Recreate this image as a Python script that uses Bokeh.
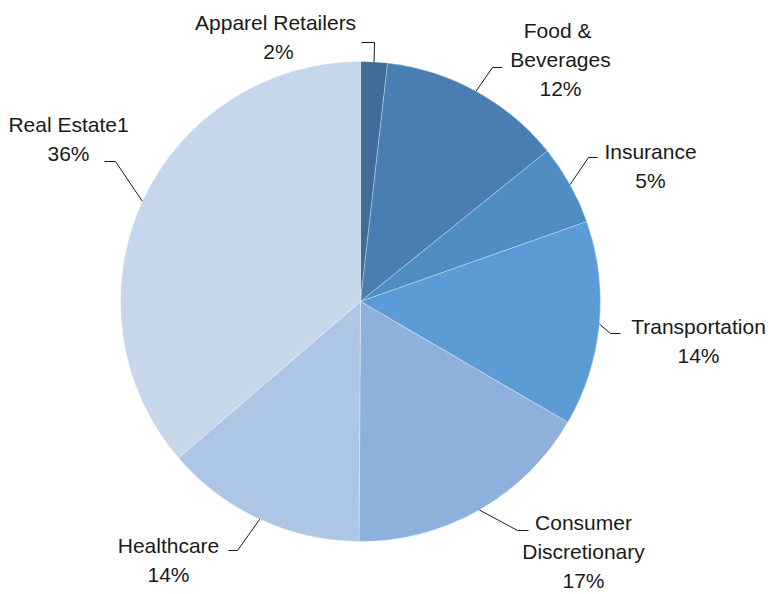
import numpy as np
from bokeh.plotting import figure
from bokeh.models import Range1d, ColumnDataSource
from bokeh.core.properties import value
from bokeh.embed import file_html
from bokeh.resources import INLINE

# ---- data ----
categories = ["Apparel Retailers", "Food & Beverages", "Insurance", "Transportation",
              "Consumer Discretionary", "Healthcare", "Real Estate1"]
shares = [1.8, 12.4, 5.4, 13.8, 16.7, 13.6, 36.3]
colors = ["#3f6c98", "#4a7eb2", "#508dc4", "#5b9bd6", "#8eb1dc", "#aec6e6", "#c6d7ec"]
label_lines = [["Apparel  Retailers"], ["Food  &", "Beverages"], ["Insurance"], ["Transportation"],
               ["Consumer", "Discretionary"], ["Healthcare"], ["Real Estate1"]]

# ---- layout (screen pixels, y measured from top) ----
W, H = 768, 594
CX, CY, R = 360, 301, 240
label_pos = [(278, 22), (560, 30), (650, 151), (698, 326), (583, 522), (168, 545), (68, 124)]
elbow_pos = [(374, 42), (492, 67), (588, 157), (610, 333), (517, 530), (237, 550), (115, 161)]
tail_pos = [(361, 42), (502, 67), (597, 157), (620, 333), (528, 530), (228, 550), (104, 161)]
LINE_H = 29
FONT = "Liberation Sans"

p = figure(width=W, height=H, x_range=Range1d(0, W), y_range=Range1d(0, H),
           output_backend="svg", toolbar_location=None, min_border=0,
           x_axis_type=None, y_axis_type=None)
p.grid.visible = False
p.outline_line_color = None
p.background_fill_color = "white"
p.border_fill_color = "white"

vals = np.array(shares, dtype=float)
frac = vals / vals.sum()
cum = np.concatenate([[0.0], np.cumsum(frac)])
start = np.pi / 2 - 2 * np.pi * cum[:-1]
end = np.pi / 2 - 2 * np.pi * cum[1:]

src = ColumnDataSource(dict(start=start, end=end, color=colors, cat=categories))
p.wedge(x=CX, y=H - CY, radius=R, radius_units="screen", start_angle="start", end_angle="end",
        direction="clock", fill_color="color", line_color="white", line_alpha=0.5,
        line_width=0.6, source=src)

# leader lines & labels
mid = 2 * np.pi * (cum[:-1] + cum[1:]) / 2
for i in range(len(categories)):
    ex = CX + R * np.sin(mid[i])
    ey = CY - R * np.cos(mid[i])
    xs = [ex, elbow_pos[i][0], tail_pos[i][0]]
    ys = [H - ey, H - elbow_pos[i][1], H - tail_pos[i][1]]
    p.line(xs, ys, line_color="#1a1a1a", line_width=1)
    lines = label_lines[i] + [f"{round(shares[i])}%"]
    lx, ly = label_pos[i]
    for j, t in enumerate(lines):
        p.text(x=[lx], y=[H - (ly + j * LINE_H)], text=[t], text_align="center",
               text_baseline="middle", text_font=value(FONT), text_font_size="21px",
               text_color="#1a1a1a")

open("out.html", "w").write(file_html(p, INLINE))
